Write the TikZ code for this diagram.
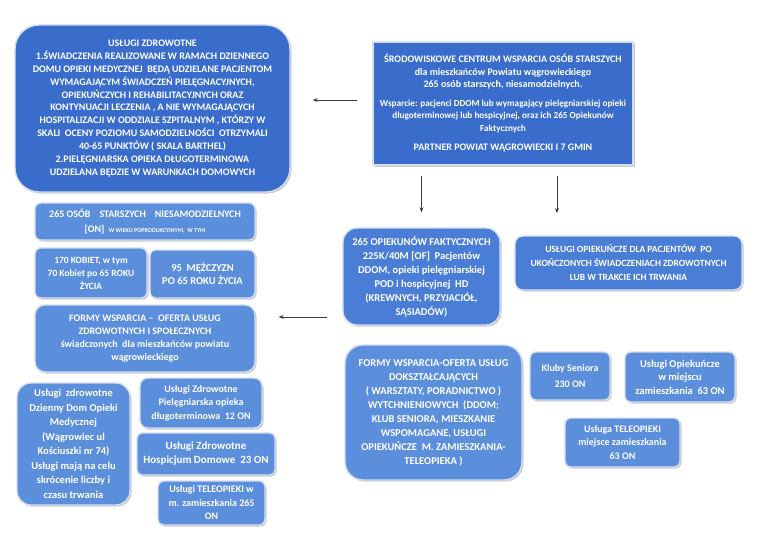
\documentclass[tikz,border=0pt]{standalone}
\usepackage{fontspec}
\setmainfont{Carlito}
\usetikzlibrary{arrows.meta,shadows,calc}
\definecolor{darkbox}{HTML}{3A6DCB}
\definecolor{midbox}{HTML}{4A7ED6}
\definecolor{lightbox}{HTML}{5B8EDB}
\definecolor{rimc}{HTML}{D3DDF0}
\definecolor{arrc}{HTML}{3C3C3C}
\tikzset{
  box/.style={draw=rimc, line width=1.4pt, text=white, align=center, inner sep=0pt,
     font=\bfseries\fontsize{10}{13.5}\selectfont,
     drop shadow={opacity=0.35, shadow xshift=1.5pt, shadow yshift=-1.5pt, fill=black!60}},
  arr/.style={draw=arrc, line width=0.8pt, -{Stealth[length=5pt,width=4pt]}},
}
\begin{document}
\begin{tikzpicture}[x=1pt,y=-1pt]
\useasboundingbox[fill=white] (0,0) rectangle (768,543);

\node[box, fill=darkbox, rounded corners=24pt, minimum width=275pt, minimum height=167pt,
  font=\bfseries\fontsize{10}{12.9}\selectfont] (tl) at (152.5,108.5)
{USŁUGI ZDROWOTNE\\
1.ŚWIADCZENIA REALIZOWANE W RAMACH DZIENNEGO\\
DOMU OPIEKI MEDYCZNEJ \ BĘDĄ UDZIELANE PACJENTOM\\
WYMAGAJĄCYM ŚWIADCZEŃ PIELĘGNACYJNYCH,\\
OPIEKUŃCZYCH I REHABILITACYJNYCH ORAZ\\
KONTYNUACJI LECZENIA , A NIE WYMAGAJĄCYCH\\
HOSPITALIZACJI W ODDZIALE SZPITALNYM , KTÓRZY W\\
SKALI \ OCENY POZIOMU SAMODZIELNOŚCI \ OTRZYMALI\\
40-65 PUNKTÓW ( SKALA BARTHEL)\\
2.PIELĘGNIARSKA OPIEKA DŁUGOTERMINOWA\\
UDZIELANA BĘDZIE W WARUNKACH DOMOWYCH};

\node[box, fill=darkbox, minimum width=260pt, minimum height=123pt,
  font=\bfseries\fontsize{10}{12.5}\selectfont] (tr) at (503,103.5)
{ŚRODOWISKOWE CENTRUM WSPARCIA OSÓB STARSZYCH\\
dla mieszkańców Powiatu wągrowieckiego\\
265 osób starszych, niesamodzielnych.\\[6pt]
{\fontsize{9.2}{12.5}\selectfont Wsparcie: pacjenci DDOM lub wymagający pielęgniarskiej opieki}\\
{\fontsize{9.2}{12.5}\selectfont długoterminowej lub hospicyjnej, oraz ich 265 Opiekunów}\\
{\fontsize{9.2}{12.5}\selectfont Faktycznych}\\[7pt]
PARTNER POWIAT WĄGROWIECKI I 7 GMIN};

\node[box, fill=lightbox, rounded corners=6pt, minimum width=220pt, minimum height=37pt,
  font=\bfseries\fontsize{10}{15}\selectfont] (on) at (145,221.5)
{265 OSÓB \ \ \ STARSZYCH \ \ \ NIESAMODZIELNYCH\\
{[ON]} \ {\fontsize{6}{6}\selectfont W WIEKU POPRODUKCYJNYM, \ W TYM}};

\node[box, fill=lightbox, rounded corners=6pt, minimum width=112pt, minimum height=50pt,
  font=\bfseries\fontsize{9.5}{13}\selectfont] (kob) at (91,273)
{170 KOBIET, w tym\\70 Kobiet po 65 ROKU\\ŻYCIA};

\node[box, fill=lightbox, rounded corners=6pt, minimum width=105pt, minimum height=48pt,
  font=\bfseries\fontsize{10.5}{13}\selectfont] (mez) at (202.5,274)
{95 \ MĘŻCZYZN\\PO 65 ROKU ŻYCIA};

\node[box, fill=lightbox, rounded corners=10pt, minimum width=220pt, minimum height=67pt,
  font=\bfseries\fontsize{10}{13}\selectfont] (forms) at (145,338.5)
{FORMY WSPARCIA – \ OFERTA USŁUG\\
ZDROWOTNYCH I SPOŁECZNYCH\\
świadczonych \ dla mieszkańców powiatu\\
wągrowieckiego};

\node[box, fill=midbox, rounded corners=14pt, minimum width=157pt, minimum height=97pt,
  font=\bfseries\fontsize{10.5}{14}\selectfont] (opf) at (421.5,276.5)
{265 OPIEKUNÓW FAKTYCZNYCH\\
225K/40M [OF] \ Pacjentów\\
DDOM, opieki pielęgniarskiej\\
POD i hospicyjnej \ HD\\
(KREWNYCH, PRZYJACIÓŁ,\\
SĄSIADÓW)};

\node[box, fill=midbox, rounded corners=8pt, minimum width=227pt, minimum height=54pt,
  font=\bfseries\fontsize{9.5}{14}\selectfont] (uop) at (628.5,263)
{USŁUGI OPIEKUŃCZE DLA PACJENTÓW \ PO\\
UKOŃCZONYCH ŚWIADCZENIACH ZDROWOTNYCH\\
LUB W TRAKCIE ICH TRWANIA};

\node[box, fill=lightbox, rounded corners=18pt, minimum width=177pt, minimum height=135pt,
  font=\bfseries\fontsize{10.5}{14}\selectfont] (dok) at (433.5,412.5)
{FORMY WSPARCIA-OFERTA USŁUG\\
DOKSZTAŁCAJĄCYCH\\
( WARSZTATY, PORADNICTWO )\\
WYTCHNIENIOWYCH \ (DDOM;\\
KLUB SENIORA, MIESZKANIE\\
WSPOMAGANE, USŁUGI\\
OPIEKUŃCZE \ M. ZAMIESZKANIA-\\
TELEOPIEKA )};

\node[box, fill=lightbox, rounded corners=6pt, minimum width=80pt, minimum height=48pt,
  font=\bfseries\fontsize{10}{16}\selectfont] (klub) at (570,376)
{Kluby Seniora\\230 ON};

\node[box, fill=lightbox, rounded corners=6pt, minimum width=110pt, minimum height=50pt,
  font=\bfseries\fontsize{10.5}{13.5}\selectfont] (uom) at (680,377)
{Usługi Opiekuńcze\\w miejscu\\zamieszkania \ 63 ON};

\node[box, fill=lightbox, rounded corners=6pt, minimum width=115pt, minimum height=49pt,
  font=\bfseries\fontsize{10}{13.5}\selectfont] (tele) at (622.5,442.5)
{Usługa TELEOPIEKI\\miejsce zamieszkania\\63 ON};

\node[box, fill=lightbox, rounded corners=14pt, minimum width=113pt, minimum height=122pt,
  font=\bfseries\fontsize{10.5}{14.5}\selectfont] (ddom) at (73.5,444)
{Usługi \ zdrowotne\\
Dzienny Dom Opieki\\
Medycznej\\
(Wągrowiec ul\\
Kościuszki nr 74)\\
Usługi mają na celu\\
skrócenie liczby i\\
czasu trwania};

\node[box, fill=lightbox, rounded corners=8pt, minimum width=122pt, minimum height=50pt,
  font=\bfseries\fontsize{10}{13.5}\selectfont] (piel) at (201,403)
{Usługi Zdrowotne\\Pielęgniarska opieka\\długoterminowa \ 12 ON};

\node[box, fill=lightbox, rounded corners=5pt, minimum width=138pt, minimum height=42pt,
  font=\bfseries\fontsize{11}{14}\selectfont] (hosp) at (206,454)
{Usługi Zdrowotne\\Hospicjum Domowe \ 23 ON};

\node[box, fill=lightbox, rounded corners=6pt, minimum width=107pt, minimum height=44pt,
  font=\bfseries\fontsize{10}{13.5}\selectfont] (tel2) at (211.5,503)
{Usługi TELEOPIEKI w\\m. zamieszkania 265\\ON};

% connectors
\draw[arr, shorten <=15pt, shorten >=22pt] (tr.west |- 0,100) -- (tl.east |- 0,100);
\draw[arr, shorten <=10pt, shorten >=15pt] (opf.north |- tr.south) -- (opf.north);
\coordinate (d2) at (557,213);
\draw[arr, shorten <=10pt] (d2 |- tr.south) -- (d2);
\draw[arr, shorten <=15pt, shorten >=23pt] (opf.west |- 0,317) -- (forms.east |- 0,317);
\end{tikzpicture}
\end{document}
